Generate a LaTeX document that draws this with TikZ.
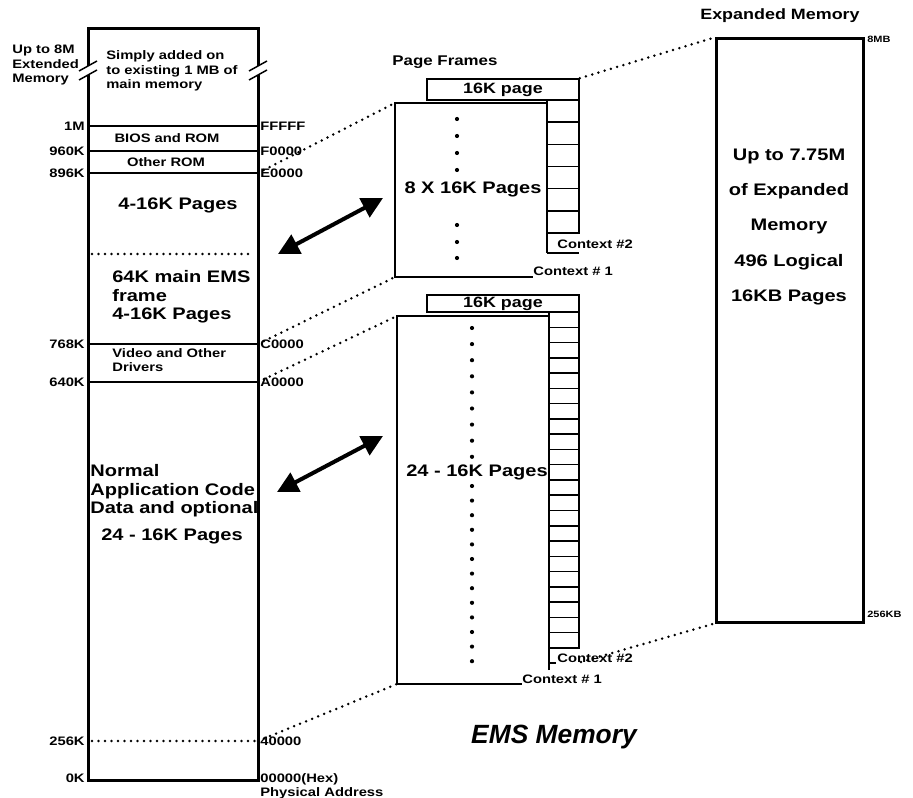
\documentclass[tikz,border=0pt]{standalone}
\usepackage{fontspec}
\setmainfont{Liberation Sans}[FakeStretch=1.2]
\newfontfamily\titlefont{Liberation Sans}
\usetikzlibrary{arrows.meta,positioning}

\begin{document}
\begin{tikzpicture}[x=0.2mm, y=-0.2mm,
  memline/.style={line width=0.6mm},
  frameline/.style={line width=0.4mm},
  thinline/.style={line width=0.3mm},
  dotline/.style={line width=0.55mm, line cap=round, dash pattern=on 0pt off 1.3mm},
  bigarrow/.style={{Triangle[length=4.2mm,width=4.2mm]}-{Triangle[length=4.2mm,width=4.2mm]}, line width=0.8mm},
  lbl/.style={font=\fontsize{7}{8.3}\selectfont\bfseries, inner sep=0pt},
  tiny/.style={font=\fontsize{5.2}{6}\selectfont\bfseries, inner sep=0pt},
  bigtxt/.style={font=\fontsize{9.5}{10.5}\selectfont\bfseries, inner sep=0pt},
  pagebox/.style={draw, thinline, minimum width=30.4mm, inner sep=0pt, font=\fontsize{8.5}{9}\selectfont\bfseries},
]
\useasboundingbox (0,0) rectangle (913,798);

% main (physical) memory
\coordinate (memTL) at (88,29);
\coordinate (memBR) at (258,780);
\draw[memline] (memTL) rectangle (memBR);
\foreach \x in {88,258} {
  \fill[white] (\x-9,71) -- (\x+9,61) -- (\x+9,70) -- (\x-9,80) -- cycle;
  \draw[thinline] (\x-9,71) -- (\x+9,61);
  \draw[thinline] (\x-9,80) -- (\x+9,70);
}
\draw[thinline] (88,126) -- (258,126);
\draw[thinline] (88,151) -- (258,151);
\draw[thinline] (88,173) coordinate (e0) -- (258,173) coordinate (e0r);
\draw[dotline] (92,254) -- (254,254);
\draw[thinline] (88,344) -- (258,344) coordinate (c0r);
\draw[thinline] (88,382) -- (258,382) coordinate (a0r);
\draw[dotline] (92,741) -- (258,741) coordinate (x4r);

\node[lbl, align=left, anchor=west] (ext) at (12,65) {Up to 8M\\Extended\\Memory};
\node[lbl, align=left, anchor=west] (added) at (106,71) {Simply added on\\to existing 1 MB of\\main memory};
\node[lbl] (bios) at (167,138) {BIOS and ROM};
\node[lbl] (orom) at (166,162) {Other ROM};
\node[bigtxt] (ems4) at (178,205) {4-16K Pages};
\node[bigtxt, align=left, anchor=west] (emsfr) at (112,297) {64K main EMS\\frame\\4-16K Pages};
\node[lbl, align=left, anchor=west] (video) at (112,360) {Video and Other\\Drivers};
\node[bigtxt, align=left, anchor=west] (normal) at (90,491) {Normal\\Application Code\\Data and optional};
\node[bigtxt] (conv24) at (172,536) {24 - 16K Pages};

% addresses
\foreach \t/\y in {1M/126, 960K/151, 896K/173, 768K/344, 640K/382, 256K/741, 0K/778}
  \node[lbl, anchor=east] (k\t) at (85,\y) {\t};
\foreach \t/\y in {FFFFF/126, F0000/151, E0000/173, C0000/344, A0000/382, 40000/741}
  \node[lbl, anchor=west] (h\t) at (260,\y) {\t};
\node[lbl, align=left, anchor=north west] (phys) at (260,773) {00000(Hex)\\Physical Address};

% page frames, upper
\node[lbl, font=\fontsize{8}{9}\selectfont\bfseries] (pf) at (445,62) {Page Frames};
\node[pagebox, minimum height=4.2mm] (upage) at (503,89.5) {16K page};
\foreach \i in {0,...,5}
  \draw[thinline] (547,{100+\i*22.17}) rectangle (579,{100+(\i+1)*22.17});
\draw[frameline] (547,253) -- (547,103) coordinate (uTR) -- (395,103) coordinate (uTL)
  -- (395,277) coordinate (uBL) -- (533,277);
\draw[thinline] (547,253) -- (579,253);
\node[lbl, anchor=base west] (uctx2) at (557,249) {Context \#2};
\node[lbl, anchor=base west] (uctx1) at (533,276) {Context \# 1};
\foreach \y in {119,136,153,170,225,242,258}
  \fill (457,\y) circle[radius=0.42mm];
\node[bigtxt] (u8) at (473,189) {8 X 16K Pages};

% page frames, lower
\node[pagebox, minimum height=3.4mm] (lpage) at (503,303.5) {16K page};
\foreach \i in {0,...,21}
  \draw[thinline] (549,{312+\i*15.27}) rectangle (579,{312+(\i+1)*15.27});
\draw[frameline] (549,670) -- (549,316) -- (397,316) coordinate (lTL)
  -- (397,684) coordinate (lBL) -- (522,684);
\draw[thinline] (549,663) -- (556,663);
\coordinate (lBR2) at (581,662);
\node[lbl, anchor=base west] (lctx2) at (557,662) {Context \#2};
\node[lbl, anchor=base west] (lctx1) at (522,683) {Context \# 1};
\foreach \k in {0,...,8}
  \fill (472,{328+\k*16.1}) circle[radius=0.42mm];
\foreach \k in {0,...,12}
  \fill (472,{486+\k*14.6}) circle[radius=0.42mm];
\node[bigtxt] (l24) at (477,472) {24 - 16K Pages};

% expanded memory
\node[lbl, font=\fontsize{8.5}{9}\selectfont\bfseries] (exptitle) at (780,16) {Expanded Memory};
\node[draw, memline, minimum width=29.4mm, minimum height=116.6mm, inner sep=0pt] (expbox) at (789.5,330.5) {};
\node[bigtxt, align=center, font=\fontsize{9.5}{20.1}\selectfont\bfseries] (exptxt) at (789,227)
  {Up to 7.75M\\of Expanded\\Memory\\496 Logical\\16KB Pages};
\node[tiny, anchor=west] (mb8) at (867,39) {8MB};
\node[tiny, anchor=west] (kb256) at (867,614) {256KB};

% mappings
\draw[dotline] (e0r) -- (uTL);
\draw[dotline] (upage.north east) -- (expbox.north west);
\draw[dotline] (c0r) -- (uBL);
\draw[dotline] (a0r) -- (lTL);
\draw[dotline] (x4r) -- (lBL);
\draw[dotline] (lBR2) -- (expbox.south west);

\coordinate (ua1) at (278,254);
\coordinate (ua2) at (383,198);
\coordinate (la1) at (277,492);
\coordinate (la2) at (383,436);
\draw[bigarrow] (ua1) -- (ua2);
\draw[bigarrow] (la1) -- (la2);

\node[font=\titlefont\fontsize{15}{18}\selectfont\bfseries\itshape] (ems) at (554,737) {EMS Memory};
\end{tikzpicture}
\end{document}
